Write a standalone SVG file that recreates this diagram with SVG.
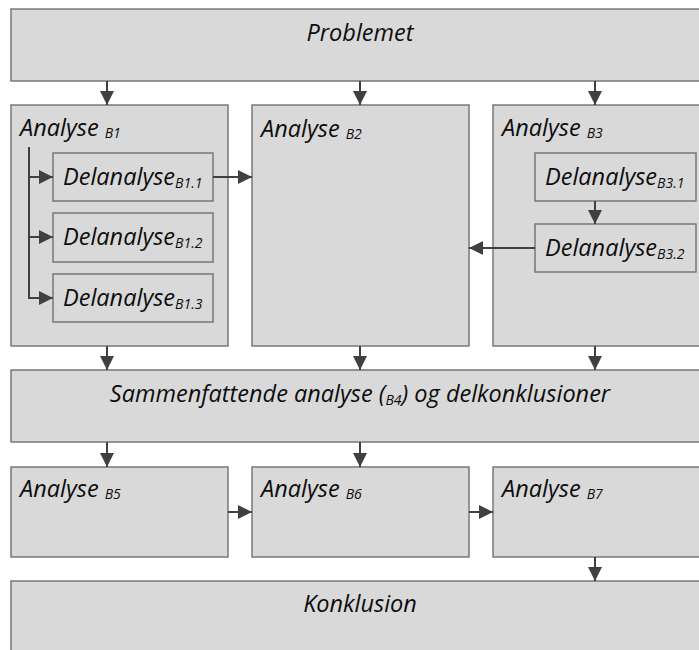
<svg xmlns="http://www.w3.org/2000/svg" width="699" height="650" viewBox="0 0 699 650">
<style>
.box{fill:#d9d9d9;stroke:#707070;stroke-width:1.4}
.t{font-family:"Open Sans","Liberation Sans",sans-serif;font-style:italic;fill:#0d0d0d;font-size:23.5px}
.s{font-size:14px}
.c{fill:none;stroke:#404040;stroke-width:2}
</style>
<defs>
<marker id="ah" markerUnits="userSpaceOnUse" markerWidth="16" markerHeight="16" refX="14" refY="8" orient="auto">
<path d="M0,1 L14,8 L0,15 Z" fill="#404040"/>
</marker>
</defs>
<rect width="699" height="650" fill="#fff"/>
<g id="problemet"><rect class="box" x="11" y="9" width="720" height="72"/><text class="t" x="360" y="41" text-anchor="middle">Problemet</text></g>
<g id="b1"><rect class="box" x="11" y="105" width="217" height="241"/><text class="t" x="20" y="136">Analyse <tspan class="s" dy="2">B1</tspan></text></g>
<g id="b11"><rect class="box" x="53" y="153" width="160" height="48"/><text class="t" x="63" y="185">Delanalyse<tspan class="s" dy="3">B1.1</tspan></text></g>
<g id="b12"><rect class="box" x="53" y="213" width="160" height="49"/><text class="t" x="63" y="245">Delanalyse<tspan class="s" dy="3">B1.2</tspan></text></g>
<g id="b13"><rect class="box" x="53" y="274" width="160" height="48"/><text class="t" x="63" y="306">Delanalyse<tspan class="s" dy="3">B1.3</tspan></text></g>
<g id="b2"><rect class="box" x="252" y="105" width="217" height="241"/><text class="t" x="261" y="137">Analyse <tspan class="s" dy="2">B2</tspan></text></g>
<g id="b3"><rect class="box" x="493" y="105" width="230" height="241"/><text class="t" x="502" y="136">Analyse <tspan class="s" dy="2">B3</tspan></text></g>
<g id="b31"><rect class="box" x="535" y="153" width="161" height="48"/><text class="t" x="545" y="185">Delanalyse<tspan class="s" dy="3">B3.1</tspan></text></g>
<g id="b32"><rect class="box" x="535" y="224" width="161" height="48"/><text class="t" x="545" y="256">Delanalyse<tspan class="s" dy="3">B3.2</tspan></text></g>
<g id="b4"><rect class="box" x="11" y="370" width="720" height="72"/><text class="t" x="360" y="402" text-anchor="middle">Sammenfattende analyse (<tspan class="s" dy="3">B4</tspan><tspan dy="-3">) og delkonklusioner</tspan></text></g>
<g id="b5"><rect class="box" x="11" y="467" width="217" height="90"/><text class="t" x="20" y="497">Analyse <tspan class="s" dy="2">B5</tspan></text></g>
<g id="b6"><rect class="box" x="252" y="467" width="217" height="90"/><text class="t" x="261" y="497">Analyse <tspan class="s" dy="2">B6</tspan></text></g>
<g id="b7"><rect class="box" x="493" y="467" width="230" height="90"/><text class="t" x="502" y="497">Analyse <tspan class="s" dy="2">B7</tspan></text></g>
<g id="konklusion"><rect class="box" x="11" y="581" width="720" height="90"/><text class="t" x="360" y="612" text-anchor="middle">Konklusion</text></g>
<g id="connectors">
<path class="c" d="M107,81 V105" marker-end="url(#ah)"/>
<path class="c" d="M360,81 V105" marker-end="url(#ah)"/>
<path class="c" d="M595,81 V105" marker-end="url(#ah)"/>
<path class="c" d="M29,147 V298"/>
<path class="c" d="M28,177 H53" marker-end="url(#ah)"/>
<path class="c" d="M28,237 H53" marker-end="url(#ah)"/>
<path class="c" d="M28,298 H53" marker-end="url(#ah)"/>
<path class="c" d="M213,177 H252" marker-end="url(#ah)"/>
<path class="c" d="M595,201 V224" marker-end="url(#ah)"/>
<path class="c" d="M535,248 H469" marker-end="url(#ah)"/>
<path class="c" d="M107,346 V370" marker-end="url(#ah)"/>
<path class="c" d="M360,346 V370" marker-end="url(#ah)"/>
<path class="c" d="M595,346 V370" marker-end="url(#ah)"/>
<path class="c" d="M107,442 V467" marker-end="url(#ah)"/>
<path class="c" d="M360,442 V467" marker-end="url(#ah)"/>
<path class="c" d="M228,512 H252" marker-end="url(#ah)"/>
<path class="c" d="M469,512 H493" marker-end="url(#ah)"/>
<path class="c" d="M595,557 V581" marker-end="url(#ah)"/>
</g>
</svg>
